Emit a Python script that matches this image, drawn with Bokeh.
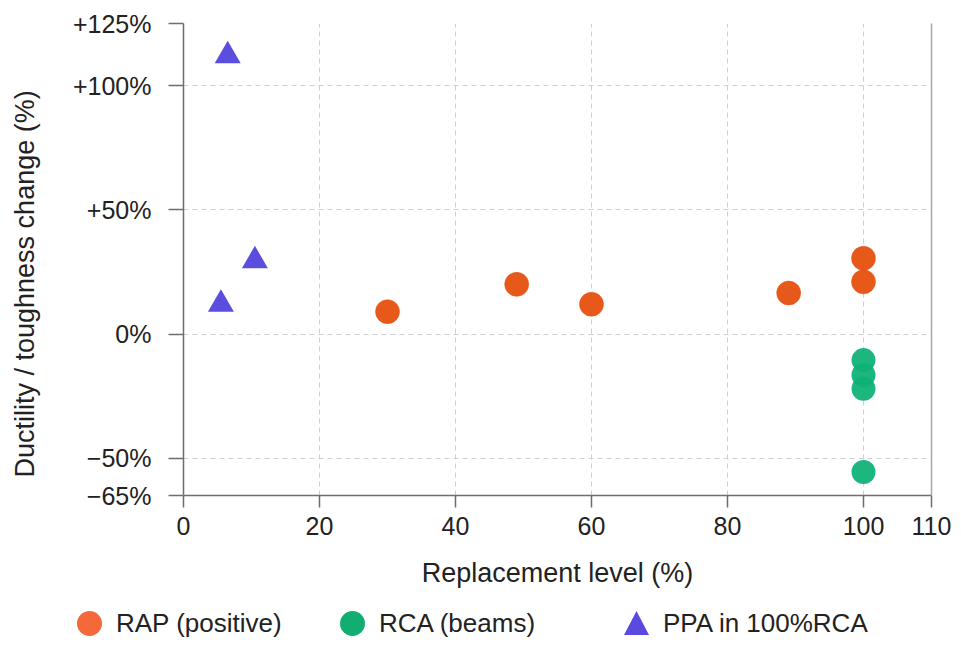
from bokeh.plotting import figure
from bokeh.layouts import column
from bokeh.models import (Range1d, FixedTicker, LinearAxis, Title, Div)
from bokeh.embed import file_html
from bokeh.resources import INLINE

# ---- data ----
rap_x = [30, 49, 60, 89, 100, 100]
rap_y = [9, 20, 12, 16.5, 30.5, 21]
rca_x = [100, 100, 100, 100]
rca_y = [-10.5, -16.5, -22, -55.5]
ppa_x = [6.5, 10.5, 5.5]
ppa_y = [112, 29.5, 12]

x_ticks = [0, 20, 40, 60, 80, 100, 110]
y_ticks = [-65, -50, 0, 50, 100, 125]
y_tick_labels = ["\u221265%", "\u221250%", "0%", "+50%", "+100%", "+125%"]

series_labels = ["RAP (positive)", "RCA (beams)", "PPA in 100%RCA"]
series_colors = ["#E5500F", "#0DB075", "#5244DC"]
legend_colors = ["#F4683A", "#12AE70", "#5A4AE0"]
x_title = "Replacement level (%)"
y_title = "Ductility / toughness change (%)"

FONT = "Liberation Sans"
TXT = "#222222"
AX = "#6e6e6e"

SHIFT = 24  # canvas is pulled left so the wide left border fits the window

p = figure(width=955 + 2 * SHIFT, height=600, output_backend="svg", toolbar_location=None,
           x_range=Range1d(0, 110), y_range=Range1d(-65, 125),
           min_border_left=183 + SHIFT, min_border_right=24, min_border_top=23,
           min_border_bottom=105, margin=(0, 0, 0, -SHIFT))
p.outline_line_color = None
p.background_fill_color = "white"

# grid
for g in (p.xgrid, p.ygrid):
    g.grid_line_color = "#cfcfcf"
    g.grid_line_dash = "5 4"
    g.grid_line_width = 1
p.xgrid.ticker = FixedTicker(ticks=x_ticks)
p.ygrid.ticker = FixedTicker(ticks=y_ticks)

# axes
xa = p.xaxis[0]
xa.ticker = FixedTicker(ticks=x_ticks)
xa.axis_label = x_title
xa.major_tick_out = 12
xa.major_tick_in = 0
xa.minor_tick_line_color = None
xa.major_label_standoff = 9
xa.axis_label_standoff = 20

ya = p.yaxis[0]
ya.ticker = FixedTicker(ticks=y_ticks)
ya.major_label_overrides = {t: l for t, l in zip(y_ticks, y_tick_labels)}
ya.major_tick_out = 15
ya.major_tick_in = 0
ya.minor_tick_line_color = None
ya.major_label_standoff = 17

for a in (xa, ya):
    a.axis_line_color = AX
    a.axis_line_width = 1.5
    a.major_tick_line_color = AX
    a.major_tick_line_width = 1.5
    a.major_label_text_font = FONT
    a.major_label_text_font_size = "25px"
    a.major_label_text_color = TXT
    a.axis_label_text_font = FONT
    a.axis_label_text_font_size = "27px"
    a.axis_label_text_font_style = "normal"
    a.axis_label_text_color = TXT

# y title (placed slightly below centre, as in the reference)
yt = Title(text=y_title, align="left", offset=18, standoff=60,
           text_font=FONT, text_font_size="27px", text_font_style="normal",
           text_color=TXT)
p.add_layout(yt, "left")

# right border
ra = LinearAxis(ticker=FixedTicker(ticks=[]), axis_line_color="#a8a8a8",
                axis_line_width=1.5, major_label_text_font_size="0px",
                major_tick_line_color=None, minor_tick_line_color=None)
p.add_layout(ra, "right")

# data marks
p.scatter(rap_x, rap_y, marker="circle", size=24, fill_color=series_colors[0],
          fill_alpha=0.95, line_color=series_colors[0], line_alpha=0.5, line_width=1)
p.scatter(rca_x, rca_y, marker="circle", size=24, fill_color=series_colors[1],
          fill_alpha=0.93, line_color=None)
p.scatter(ppa_x, ppa_y, marker="triangle", size=26, fill_color=series_colors[2],
          fill_alpha=0.95, line_color=None)

# legend strip (HTML) below the chart
marker_svgs = [
    '<svg width="25" height="25"><circle cx="12.5" cy="12.5" r="12.5" fill="{c}"/></svg>',
    '<svg width="25" height="25"><circle cx="12.5" cy="12.5" r="12.5" fill="{c}"/></svg>',
    '<svg width="25" height="24"><polygon points="12.5,0 25,24 0,24" fill="{c}"/></svg>',
]
item_left = [77, 340, 624]
parts = []
for lab, col, svg, left in zip(series_labels, legend_colors, marker_svgs, item_left):
    parts.append(
        f'<div style="position:absolute;left:{left}px;top:10px;height:26px;'
        f'display:flex;align-items:center;white-space:nowrap;">'
        f'{svg.format(c=col)}'
        f'<span style="margin-left:14px;font-family:\'{FONT}\';font-size:26px;'
        f'color:{TXT};line-height:26px;">{lab}</span></div>'
    )
legend_html = ('<div style="position:relative;width:955px;height:47px;">'
               + "".join(parts) + '</div>')
leg = Div(text=legend_html, width=955, height=47, margin=0)

layout = column(p, leg, spacing=0)
open("out.html", "w").write(file_html(layout, INLINE))
